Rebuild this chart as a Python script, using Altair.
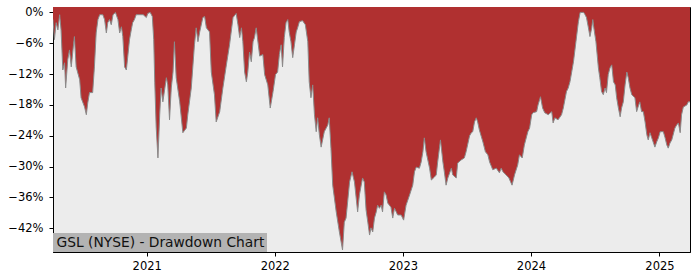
import altair as alt
import pandas as pd

# ---- data (drawdown in %) ----
dates_2020 = ["2020-04-09", "2020-04-13", "2020-04-18", "2020-04-23", "2020-04-28", "2020-05-02",
              "2020-05-07", "2020-05-12", "2020-05-15", "2020-05-21", "2020-05-26", "2020-05-31",
              "2020-06-04", "2020-06-09", "2020-06-14", "2020-06-24", "2020-06-28", "2020-07-08",
              "2020-07-13", "2020-07-17", "2020-07-22", "2020-07-31", "2020-08-05", "2020-08-10",
              "2020-08-15", "2020-08-20", "2020-08-29", "2020-09-03", "2020-09-08", "2020-09-12",
              "2020-09-17", "2020-09-22", "2020-09-27", "2020-10-04", "2020-10-11", "2020-10-16",
              "2020-10-21", "2020-10-25", "2020-10-30", "2020-11-04", "2020-11-08", "2020-11-13",
              "2020-11-18", "2020-11-22", "2020-11-27", "2020-12-02", "2020-12-12", "2020-12-22",
              "2020-12-31"]
dd_2020 = [-1.4, -5.3, -2.0, -3.4, -0.45, -3.4,
           -11.2, -9.8, -14.7, -9.2, -7.3, -10.6,
           -7.9, -4.7, -10.6, -13.1, -16.6, -18.4,
           -19.9, -17.6, -15.6, -15.6, -10.6, -4.0,
           -1.4, -0.45, -0.45, -1.4, -4.0, -2.0,
           -1.4, -2.4, -0.45, 0.0, -1.4, -4.0,
           -2.8, -4.7, -10.6, -11.2, -8.6, -5.3,
           -3.4, -2.0, -1.4, -0.45, -0.45, -0.45,
           -1.0]

dates_2021 = ["2021-01-04", "2021-01-11", "2021-01-17", "2021-01-21", "2021-01-24", "2021-01-28",
              "2021-02-02", "2021-02-07", "2021-02-11", "2021-02-16", "2021-02-26", "2021-03-02",
              "2021-03-07", "2021-03-12", "2021-03-17", "2021-03-21", "2021-03-26", "2021-04-05",
              "2021-04-14", "2021-04-24", "2021-04-28", "2021-05-08", "2021-05-17", "2021-05-22",
              "2021-05-27", "2021-06-01", "2021-06-10", "2021-06-15", "2021-06-20", "2021-06-29",
              "2021-07-04", "2021-07-13", "2021-07-18", "2021-07-28", "2021-08-06", "2021-08-16",
              "2021-08-25", "2021-09-04", "2021-09-13", "2021-09-18", "2021-09-23", "2021-09-28",
              "2021-10-02", "2021-10-07", "2021-10-12", "2021-10-16", "2021-10-21", "2021-10-26",
              "2021-10-31", "2021-11-04", "2021-11-09", "2021-11-19", "2021-11-28", "2021-12-03",
              "2021-12-12", "2021-12-19", "2021-12-27"]
dd_2021 = [-0.2, 0.0, -0.8, -5.3, -13.7, -22.3,
           -28.3, -19.9, -14.7, -17.4, -12.7, -14.1,
           -20.9, -14.7, -11.6, -5.7, -12.7, -17.4,
           -23.4, -22.5, -19.9, -14.7, -6.3, -3.0,
           -5.7, -3.8, -1.0, -0.8, -3.0, -3.8,
           -11.6, -16.0, -21.3, -19.3, -14.7, -10.2,
           -6.3, -1.0, -0.2, -2.4, -4.9, -3.0,
           -5.7, -11.6, -13.5, -11.6, -7.7, -9.6,
           -5.7, -4.9, -3.0, -8.5, -8.2, -12.1,
           -14.1, -18.6, -15.4]

dates_2022 = ["2022-01-03", "2022-01-09", "2022-01-14", "2022-01-19", "2022-01-23", "2022-01-28",
              "2022-02-02", "2022-02-07", "2022-02-11", "2022-02-16", "2022-02-21", "2022-02-26",
              "2022-03-03", "2022-03-07", "2022-03-12", "2022-03-21", "2022-03-29", "2022-04-05",
              "2022-04-09", "2022-04-14", "2022-04-19", "2022-04-24", "2022-04-29", "2022-05-03",
              "2022-05-08", "2022-05-13", "2022-05-22", "2022-06-01", "2022-06-05", "2022-06-10",
              "2022-06-15", "2022-06-25", "2022-07-04", "2022-07-13", "2022-07-18", "2022-07-23",
              "2022-08-02", "2022-08-09", "2022-08-16", "2022-08-25", "2022-08-30", "2022-09-08",
              "2022-09-13", "2022-09-18", "2022-09-23", "2022-09-28", "2022-10-02", "2022-10-07",
              "2022-10-12", "2022-10-17", "2022-10-21", "2022-10-26", "2022-10-31", "2022-11-04",
              "2022-11-09", "2022-11-14", "2022-11-19", "2022-11-28", "2022-12-03", "2022-12-08",
              "2022-12-13", "2022-12-17", "2022-12-27"]
dd_2022 = [-12.1, -11.6, -8.2, -6.3, -10.6, -4.9,
           -2.0, -1.4, -3.8, -5.7, -8.8, -6.3,
           -3.8, -3.0, -1.8, -1.6, -2.4, -5.7,
           -13.5, -16.6, -14.1, -19.9, -23.2, -20.5,
           -23.8, -26.2, -23.2, -21.9, -20.5, -26.4,
           -33.6, -38.8, -42.7, -46.2, -40.8, -40.0,
           -33.0, -31.0, -33.0, -38.8, -35.5, -32.2,
           -33.0, -38.4, -40.8, -43.3, -41.9, -42.7,
           -40.0, -38.8, -37.5, -38.1, -37.5, -38.8,
           -34.9, -35.5, -37.1, -37.9, -40.0, -38.1,
           -38.8, -39.4, -39.4]

dates_2023 = ["2023-01-03", "2023-01-10", "2023-01-20", "2023-01-29", "2023-02-03", "2023-02-08",
              "2023-02-17", "2023-02-22", "2023-02-27", "2023-03-03", "2023-03-08", "2023-03-18",
              "2023-03-23", "2023-04-01", "2023-04-06", "2023-04-10", "2023-04-18", "2023-04-25",
              "2023-04-29", "2023-05-04", "2023-05-09", "2023-05-19", "2023-05-23", "2023-06-02",
              "2023-06-06", "2023-06-16", "2023-06-25", "2023-06-30", "2023-07-10", "2023-07-15",
              "2023-07-19", "2023-07-24", "2023-07-29", "2023-08-02", "2023-08-07", "2023-08-17",
              "2023-08-24", "2023-08-31", "2023-09-05", "2023-09-14", "2023-09-24", "2023-10-03",
              "2023-10-08", "2023-10-13", "2023-10-22", "2023-10-30", "2023-11-08", "2023-11-15",
              "2023-11-24", "2023-11-29", "2023-12-07", "2023-12-13", "2023-12-23", "2023-12-28"]
dd_2023 = [-40.4, -37.5, -35.5, -33.6, -31.0, -30.1,
           -30.3, -29.1, -27.1, -24.4, -27.1, -30.3,
           -32.6, -32.0, -31.6, -29.1, -24.8, -29.1,
           -31.0, -33.6, -32.2, -30.3, -31.6, -32.2,
           -29.3, -28.7, -28.3, -27.1, -24.0, -23.4,
           -23.2, -21.3, -20.5, -21.3, -22.9, -25.2,
           -27.1, -27.7, -29.1, -30.6, -30.3, -31.2,
           -30.3, -31.0, -31.6, -32.2, -33.6, -31.6,
           -29.7, -27.7, -28.3, -25.8, -23.2, -22.5]

dates_2024 = ["2024-01-03", "2024-01-07", "2024-01-17", "2024-01-21", "2024-01-28", "2024-02-03",
              "2024-02-09", "2024-02-19", "2024-02-29", "2024-03-04", "2024-03-09", "2024-03-18",
              "2024-03-28", "2024-04-02", "2024-04-11", "2024-04-16", "2024-04-21", "2024-05-01",
              "2024-05-08", "2024-05-15", "2024-05-20", "2024-05-30", "2024-06-03", "2024-06-07",
              "2024-06-12", "2024-06-17", "2024-06-22", "2024-06-25", "2024-06-28", "2024-07-04",
              "2024-07-11", "2024-07-15", "2024-07-20", "2024-07-25", "2024-07-30", "2024-08-03",
              "2024-08-08", "2024-08-13", "2024-08-18", "2024-08-23", "2024-08-28", "2024-09-01",
              "2024-09-06", "2024-09-11", "2024-09-15", "2024-09-20", "2024-09-25", "2024-09-30",
              "2024-10-04", "2024-10-09", "2024-10-14", "2024-10-23", "2024-10-28", "2024-11-01",
              "2024-11-06", "2024-11-11", "2024-11-16", "2024-11-21", "2024-11-26", "2024-11-30",
              "2024-12-05", "2024-12-10", "2024-12-14", "2024-12-19", "2024-12-24", "2024-12-29"]
dd_2024 = [-19.9, -19.5, -19.3, -18.0, -16.4, -18.6,
           -19.5, -19.9, -19.3, -21.5, -20.5, -20.9,
           -19.9, -18.6, -15.4, -14.7, -13.5, -9.6,
           -5.7, -1.8, 0.0, 0.0, -0.45, -1.0,
           -2.8, -4.7, -3.0, -1.4, -3.0, -5.7,
           -10.8, -12.7, -15.4, -16.0, -14.7, -15.6,
           -12.1, -10.8, -10.2, -13.5, -14.1, -16.6,
           -18.6, -20.3, -18.6, -17.4, -14.1, -11.6,
           -12.7, -14.7, -16.0, -16.6, -19.3, -18.4,
           -17.4, -19.3, -19.3, -21.3, -23.8, -24.8,
           -23.4, -24.4, -25.2, -26.2, -25.2, -24.4]

dates_2025 = ["2025-01-03", "2025-01-12", "2025-01-17", "2025-01-22", "2025-01-26", "2025-01-31",
              "2025-02-05", "2025-02-14", "2025-02-19", "2025-02-24", "2025-03-01", "2025-03-05",
              "2025-03-10", "2025-03-20", "2025-03-24", "2025-03-29"]
dd_2025 = [-23.2, -23.2, -24.4, -25.8, -26.4, -25.4,
           -24.8, -22.5, -21.9, -21.5, -23.4, -19.9,
           -18.4, -18.0, -17.4, -17.4]

y_ticks = [0, -6, -12, -18, -24, -30, -36, -42]
x_tick_years = [2021, 2022, 2023, 2024, 2025]
label_text = "GSL (NYSE) - Drawdown Chart"

all_dates = dates_2020 + dates_2021 + dates_2022 + dates_2023 + dates_2024 + dates_2025
all_dd = dd_2020 + dd_2021 + dd_2022 + dd_2023 + dd_2024 + dd_2025
df = pd.DataFrame({"date": all_dates, "dd": all_dd})

FONT = "DejaVu Sans"
Y_TOP = 1.05
Y_BOTTOM = -46.6

x_enc = alt.X(
    "date:T",
    scale=alt.Scale(
        type="utc",
        domain=[alt.DateTime(year=2020, month=4, date=9, utc=True),
                alt.DateTime(year=2025, month=3, date=29, utc=True)],
        nice=False,
    ),
    axis=alt.Axis(
        values=[alt.DateTime(year=yy, month=1, date=1, utc=True) for yy in x_tick_years],
        format="%Y", formatType="utc", title=None, grid=False, labelOverlap=False,
        tickSize=4, labelPadding=4,
    ),
)
y_enc = alt.Y(
    "dd:Q",
    scale=alt.Scale(domain=[Y_BOTTOM, Y_TOP], nice=False, zero=False),
    axis=alt.Axis(
        values=y_ticks, labelExpr="format(datum.value, 'd') + '%'", title=None, grid=False,
        labelOverlap=False, labelBound=False, labelFlush=False,
        tickSize=4, labelPadding=6,
    ),
)

base = alt.Chart(df)
area = base.mark_area(color="#b03030", clip=True, interpolate="linear").encode(
    x=x_enc, y=y_enc, y2=alt.datum(Y_TOP)
)
edge = base.mark_line(color="#8a8a8a", strokeWidth=1, clip=True).encode(
    x=x_enc, y=y_enc
)

lab_df = pd.DataFrame({"label": [label_text]})
box = alt.Chart(lab_df).mark_rect(color="#b3b3b3").encode(
    x=alt.value(0), x2=alt.value(214), y=alt.value(226), y2=alt.value(245)
)
txt = alt.Chart(lab_df).mark_text(
    align="left", baseline="alphabetic", fontSize=13.8, font=FONT, color="#111111"
).encode(x=alt.value(3.5), y=alt.value(239.5), text="label:N")

chart = (
    alt.layer(area, edge, box, txt)
    .properties(
        width=637, height=245,
        autosize=alt.AutoSizeParams(type="none"),
        padding={"left": 53, "top": 7, "right": 10, "bottom": 28},
        background="#ffffff",
    )
    .configure_view(fill="#ececec", stroke="#000000", strokeWidth=1)
    .configure_axis(
        labelOverlap=False, labelFont=FONT, labelFontSize=11.5, labelColor="#000000",
        tickColor="#000000", domainColor="#000000", grid=False,
    )
)

chart.save("out.html", embed_options={"renderer": "svg", "actions": False})
